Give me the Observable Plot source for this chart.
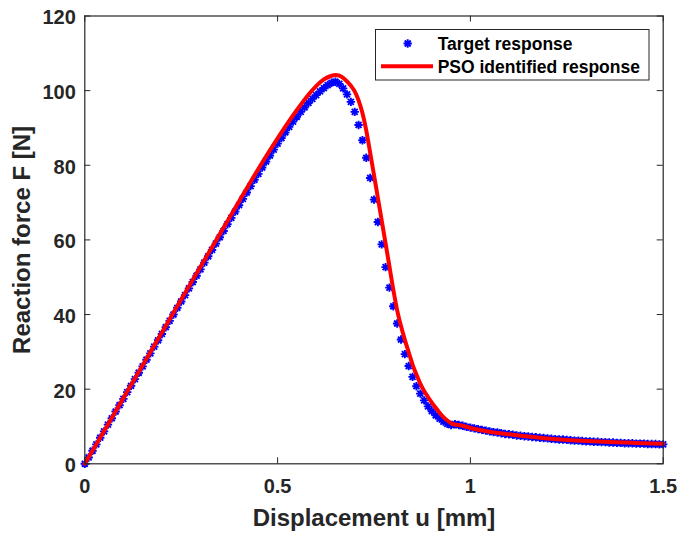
<!DOCTYPE html>
<html><head><meta charset="utf-8">
<script src="https://cdn.jsdelivr.net/npm/d3@7"></script>
<script src="https://cdn.jsdelivr.net/npm/@observablehq/plot@0.6"></script>
<style>body{margin:0;background:#fff}#wrap{position:relative;width:678px;height:534px}</style>
</head><body><div id="wrap"></div>
<script>
const targetU = [
0,0.01,0.02,0.03,0.04,0.05,0.06,0.07,0.08,0.09,
0.10,0.11,0.12,0.13,0.14,0.15,0.16,0.17,0.18,0.19,
0.20,0.21,0.22,0.23,0.24,0.25,0.26,0.27,0.28,0.29,
0.30,0.31,0.32,0.33,0.34,0.35,0.36,0.37,0.38,0.39,
0.40,0.41,0.42,0.43,0.44,0.45,0.46,0.47,0.48,0.49,
0.50,0.51,0.52,0.53,0.54,0.55,0.56,0.57,0.58,0.59,
0.60,0.61,0.62,0.63,0.64,0.65,0.66,0.67,0.68,0.69,
0.70,0.71,0.72,0.73,0.74,0.75,0.76,0.77,0.78,0.79,
0.80,0.81,0.82,0.83,0.84,0.85,0.86,0.87,0.88,0.89,
0.90,0.91,0.92,0.93,0.94,0.95,0.96,0.97,0.98,0.99,
1.00,1.01,1.02,1.03,1.04,1.05,1.06,1.07,1.08,1.09,
1.10,1.11,1.12,1.13,1.14,1.15,1.16,1.17,1.18,1.19,
1.20,1.21,1.22,1.23,1.24,1.25,1.26,1.27,1.28,1.29,
1.30,1.31,1.32,1.33,1.34,1.35,1.36,1.37,1.38,1.39,
1.40,1.41,1.42,1.43,1.44,1.45,1.46,1.47,1.48,1.49,
1.50];
const targetF = [
0,1.7,3.5,5.2,7.0,8.7,10.5,12.2,14.0,15.7,
17.4,19.2,20.9,22.7,24.4,26.1,27.9,29.6,31.4,33.1,
34.8,36.6,38.3,40.0,41.8,43.5,45.2,47.0,48.7,50.4,
52.1,53.9,55.6,57.3,59.0,60.7,62.4,64.2,65.9,67.6,
69.3,71.0,72.7,74.4,76.1,77.7,79.4,81.0,82.6,84.2,
85.8,87.3,88.8,90.3,91.7,93.0,94.3,95.5,96.7,97.8,
98.8,99.8,100.7,101.5,102.1,102.4,101.8,100.6,99.0,97.0,
94.3,90.8,86.7,82.0,76.6,70.8,64.8,58.8,52.7,47.2,
42.2,37.6,33.3,29.4,26.2,23.3,20.8,18.8,17.0,15.4,
14.1,13.0,12.1,11.3,10.7,10.4,10.6,10.4,10.2,9.9,
9.7,9.5,9.3,9.1,8.9,8.7,8.5,8.4,8.2,8.0,
7.9,7.8,7.6,7.5,7.4,7.3,7.2,7.1,7.0,6.9,
6.8,6.7,6.6,6.5,6.5,6.4,6.3,6.2,6.2,6.1,
6.0,6.0,5.9,5.9,5.8,5.8,5.7,5.7,5.6,5.6,
5.5,5.5,5.5,5.4,5.4,5.4,5.3,5.3,5.3,5.2,
5.2];
const psoU = [0,0.1,0.2,0.3,0.4,0.45,0.5,0.55,0.58,0.6,0.62,0.64,0.65,0.66,0.67,0.68,0.69,0.70,
0.71,0.72,0.73,0.74,0.75,0.76,0.77,0.78,0.79,0.80,0.81,0.82,0.83,0.84,0.85,0.86,0.87,0.88,0.89,
0.90,0.91,0.92,0.93,0.94,0.95,0.955,0.97,0.98,1.00,1.05,1.10,1.15,1.20,1.25,1.30,1.35,1.40,1.45,1.50];
const psoF = [0,17.6,35.2,52.8,70.3,79.0,87.2,94.8,98.9,101.2,103.0,104.0,104.2,104.0,103.4,102.5,101.3,99.8,
97.4,94.0,89.3,83.4,77.4,71.3,65.2,59.1,52.9,46.7,41.2,36.9,33.2,29.9,26.6,23.9,21.5,19.5,17.9,
16.4,15.0,13.7,12.5,11.6,10.9,10.6,10.4,10.2,9.6,8.6,7.9,7.3,6.8,6.4,6.1,5.9,5.7,5.5,5.4];
const xTicks = [0, 0.5, 1, 1.5];
const yTicks = [0, 20, 40, 60, 80, 100, 120];
const xLabel = "Displacement u [mm]";
const yLabel = "Reaction force F [N]";
const seriesNames = ["Target response", "PSO identified response"];

const font = '"Liberation Sans", Arial, Helvetica, sans-serif';
const axisColor = "#262626";
const star = {draw(ctx, size) {
  const r = Math.sqrt(size / Math.PI), d = r * Math.SQRT1_2;
  ctx.moveTo(-r, 0); ctx.lineTo(r, 0);
  ctx.moveTo(0, -r); ctx.lineTo(0, r);
  ctx.moveTo(-d, -d); ctx.lineTo(d, d);
  ctx.moveTo(-d, d); ctx.lineTo(d, -d);
}};
const target = targetU.map((u, i) => ({u, F: targetF[i]}));
const pso = psoU.map((u, i) => ({u, F: psoF[i]}));

const W = 678, H = 534, mL = 84.3, mR = 15.3, mT = 15.5, mB = 70.7;
const fw = W - mL - mR, fh = H - mT - mB, tl = 6;
const mr = 4.2, msw = 1.9;

const chart = Plot.plot({
  width: W, height: H,
  marginLeft: mL, marginRight: mR, marginTop: mT, marginBottom: mB,
  style: {fontFamily: font, background: "#fff", color: axisColor, overflow: "visible"},
  x: {domain: [0, 1.5]},
  y: {domain: [0, 120]},
  marks: [
    Plot.dot(target, {x: "u", y: "F", symbol: star, r: mr, fill: "none", stroke: "#0000ff", strokeWidth: msw}),
    Plot.line(pso, {x: "u", y: "F", stroke: "#ff0000", strokeWidth: 4, curve: "monotone-x"}),
    Plot.frame({stroke: axisColor, strokeWidth: 1.2}),
    Plot.tickX(xTicks, {x: d => d, insetTop: fh - tl, stroke: axisColor}),
    Plot.tickX(xTicks, {x: d => d, insetBottom: fh - tl, stroke: axisColor}),
    Plot.tickY(yTicks, {y: d => d, insetRight: fw - tl, stroke: axisColor}),
    Plot.tickY(yTicks, {y: d => d, insetLeft: fw - tl, stroke: axisColor}),
    Plot.axisX(xTicks, {anchor: "bottom", tickSize: 0, tickPadding: 15, tickFormat: d => String(d), fontSize: 20, fontWeight: "bold", label: null, fill: axisColor}),
    Plot.axisY(yTicks, {anchor: "left", tickSize: 0, tickPadding: 9, tickFormat: d => String(d), fontSize: 20, fontWeight: "bold", label: null, dy: 2, fill: axisColor}),
    Plot.text([xLabel], {text: d => d, frameAnchor: "bottom", textAnchor: "middle", lineAnchor: "middle", dy: 54.5, fontSize: 24, fontWeight: "bold", fill: axisColor}),
    Plot.text([yLabel], {text: d => d, frameAnchor: "left", textAnchor: "middle", lineAnchor: "middle", rotate: -90, dx: -62.5, fontSize: 24, fontWeight: "bold", fill: axisColor})
  ]
});
const wrap = document.getElementById("wrap");
wrap.appendChild(chart);

// legend overlay
const lg = d3.create("svg").attr("width", W).attr("height", H)
  .style("position", "absolute").style("left", "0px").style("top", "0px")
  .style("font-family", font);
lg.append("rect").attr("x", 375.5).attr("y", 29.5).attr("width", 273.5).attr("height", 50.5)
  .attr("fill", "#fff").attr("stroke", axisColor).attr("stroke-width", 1);
const p = d3.path(); star.draw(p, mr * mr * Math.PI);
lg.append("path").attr("d", p.toString()).attr("transform", "translate(407.7,43.5)")
  .attr("fill", "none").attr("stroke", "#0000ff").attr("stroke-width", msw);
lg.append("line").attr("x1", 381).attr("x2", 433).attr("y1", 66.3).attr("y2", 66.3)
  .attr("stroke", "#ff0000").attr("stroke-width", 4);
lg.selectAll("text.l").data(seriesNames).join("text")
  .attr("x", 437.7).attr("y", (d, i) => i ? 72.7 : 50)
  .attr("font-size", 17.5).attr("font-weight", "bold").attr("fill", "#000").text(d => d);
wrap.appendChild(lg.node());
</script>
</body></html>
